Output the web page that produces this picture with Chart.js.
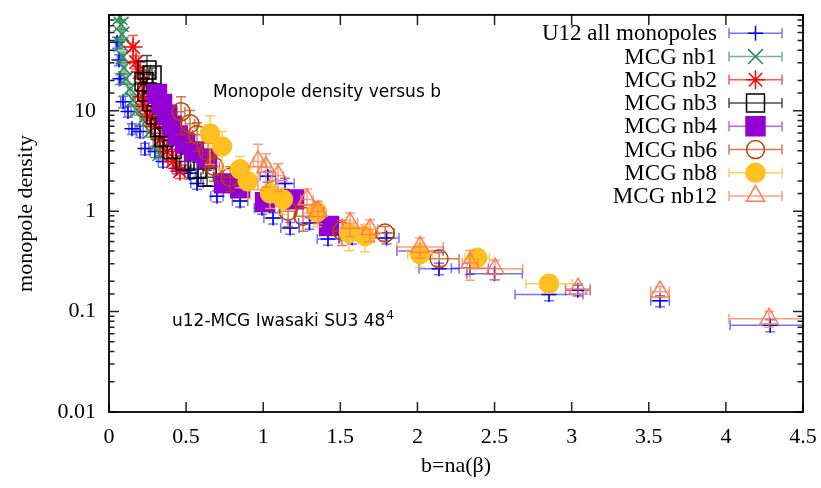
<!DOCTYPE html>
<html>
<head>
<meta charset="utf-8">
<script src="https://cdn.jsdelivr.net/npm/chart.js@4.4.1/dist/chart.umd.min.js"></script>
<style>
html,body{margin:0;padding:0;background:#ffffff;}
#box{width:821px;height:488px;}
</style>
</head>
<body>
<div id="box"><canvas id="chart" width="821" height="488"></canvas></div>
<script>
// ---------------- data ----------------
const seriesLabels = ['U12 all monopoles','MCG nb1','MCG nb2','MCG nb3','MCG nb4','MCG nb6','MCG nb8','MCG nb12'];

const u12B      = [0.052,0.065,0.071,0.091,0.123,0.149,0.201,0.233,0.298,0.35,0.44,0.525,0.571,0.70,0.85,0.992,1.03,1.064,1.141,1.174,1.30,1.42,1.576,1.80,2.017,2.14,2.34,2.50,2.853,3.04,3.573,4.287];
const u12Rho    = [48,32,20.8,12.3,9.8,6.6,6.2,4.2,3.93,3.13,2.67,2.38,1.89,1.41,1.26,1.07,2.22,0.853,1.89,0.68,0.76,0.528,0.54,0.54,0.40,0.267,0.27,0.238,0.148,0.163,0.128,0.073];
const u12BErr   = [0.01,0.01,0.01,0.015,0.02,0.02,0.02,0.025,0.03,0.03,0.03,0.035,0.04,0.04,0.05,0.05,0.05,0.06,0.06,0.06,0.07,0.07,0.08,0.08,0.15,0.13,0.12,0.18,0.22,0.08,0.06,0.26];
const u12RhoErr = [6,4,2.6,1.6,1.2,0.8,0.8,0.55,0.5,0.4,0.33,0.3,0.24,0.18,0.16,0.14,0.28,0.11,0.24,0.09,0.1,0.07,0.07,0.07,0.05,0.035,0.035,0.03,0.02,0.02,0.016,0.01];

const nb1B      = [0.071,0.078,0.084,0.078,0.091,0.097,0.11,0.136,0.156,0.182,0.22,0.266,0.311,0.33];
const nb1Rho    = [85,72.6,57.8,46,34.3,26.7,20.8,16.5,12.8,10.2,8.15,6.2,4.71,3.75];
const nb1BErr   = [0.008,0.008,0.01,0.01,0.01,0.012,0.012,0.015,0.015,0.02,0.02,0.02,0.025,0.025];
const nb1RhoErr = [10,8.7,7,5.5,4.1,3.2,2.5,2,1.5,1.2,1,0.75,0.57,0.45];

const nb2B      = [0.156,0.175,0.201,0.22,0.214,0.233,0.266,0.298,0.33,0.376,0.415,0.46];
const nb2Rho    = [43,30.5,24.3,18.5,13.8,11.0,8.7,6.95,5.17,3.93,3.13,2.49];
const nb2BErr   = [0.015,0.015,0.02,0.02,0.02,0.02,0.025,0.025,0.03,0.03,0.03,0.03];
const nb2RhoErr = [13,4.5,3.6,2.8,2.1,1.6,1.3,1.0,0.78,0.6,0.47,0.37];

const nb3B      = [0.246,0.279,0.227,0.246,0.279,0.305,0.33,0.357,0.409,0.493,0.571,0.636];
const nb3Rho    = [25.5,22.7,19.4,15.4,12.3,9.1,6.8,5.4,4.1,3.13,2.61,2.17];
const nb3BErr   = [0.02,0.02,0.02,0.02,0.025,0.025,0.03,0.03,0.03,0.035,0.04,0.04];
const nb3RhoErr = [10,4,3.5,2.8,2.2,1.6,1.2,0.95,0.72,0.55,0.45,0.38];

const nb4B      = [0.311,0.344,0.376,0.409,0.447,0.493,0.551,0.636,0.746,0.85,1.012,1.20,1.427];
const nb4Rho    = [14.7,11.7,9.1,7.1,5.66,4.71,3.93,3.35,1.89,1.69,1.23,1.31,0.71];
const nb4BErr   = [0.02,0.02,0.025,0.025,0.03,0.03,0.03,0.035,0.04,0.04,0.05,0.05,0.05];
const nb4RhoErr = [2.5,1.6,1.2,0.9,0.7,0.6,0.5,0.45,0.3,0.25,0.18,0.18,0.1];

const nb6B      = [0.467,0.525,0.571,0.642,0.681,0.785,1.161,1.258,1.511,1.79,2.14];
const nb6Rho    = [9.77,7.43,5.78,3.93,2.79,2.17,1.0,0.89,0.634,0.605,0.335];
const nb6BErr   = [0.025,0.03,0.03,0.035,0.035,0.04,0.05,0.05,0.06,0.06,0.13];
const nb6RhoErr = [4,2.6,1.8,1.2,0.8,0.6,0.3,0.26,0.18,0.1,0.05];

const nb8B      = [0.655,0.733,0.85,0.90,1.044,1.128,1.349,1.556,1.66,2.017,2.387,2.853];
const nb8Rho    = [5.92,4.41,2.61,1.98,1.51,1.31,0.98,0.605,0.565,0.375,0.343,0.189];
const nb8BErr   = [0.03,0.03,0.035,0.035,0.04,0.04,0.05,0.05,0.05,0.08,0.08,0.15];
const nb8RhoErr = [3.0,1.8,0.9,0.65,0.45,0.38,0.28,0.2,0.17,0.1,0.07,0.03];

const nb12B      = [0.966,1.018,1.096,1.284,1.355,1.563,1.693,2.017,2.341,2.503,3.041,3.573,4.28];
const nb12Rho    = [3.13,2.73,2.27,1.31,1.0,0.76,0.66,0.44,0.305,0.267,0.169,0.158,0.085];
const nb12BErr   = [0.03,0.03,0.035,0.04,0.04,0.05,0.05,0.15,0.05,0.18,0.08,0.06,0.26];
const nb12RhoErr = [1.5,1.0,0.7,0.35,0.25,0.2,0.16,0.1,0.1,0.06,0.02,0.02,0.015];

// ---------------- styles ----------------
const SERIF = '"Liberation Serif", "Times New Roman", serif';
const SANS  = '"DejaVu Sans", Verdana, sans-serif';

const seriesStyles = [
  {color:'#0000ff', err:'rgba(0,0,255,0.55)',    style:'cross',    r:7.5,  fill:false},
  {color:'#2e8b57', err:'rgba(46,139,87,0.65)',  style:'crossRot', r:10.5, fill:false},
  {color:'#ff0000', err:'rgba(255,0,0,0.65)',    style:'star',     r:9.5,  fill:false},
  {color:'#000000', err:'rgba(0,0,0,0.7)',       style:'rect',     r:12.7, fill:false},
  {color:'#9400d3', err:'rgba(148,0,211,0.6)',   style:'rect',     r:13.4, fill:true},
  {color:'#c04000', err:'rgba(192,64,0,0.7)',    style:'circle',   r:9,    fill:false},
  {color:'#ffc020', err:'rgba(255,192,32,0.75)', style:'circle',   r:9.5,  fill:true},
  {color:'#ff7f50', err:'rgba(255,127,80,0.75)', style:'triangle', r:10.5, fill:false}
];

const seriesData = [
  [u12B,u12Rho,u12BErr,u12RhoErr],
  [nb1B,nb1Rho,nb1BErr,nb1RhoErr],
  [nb2B,nb2Rho,nb2BErr,nb2RhoErr],
  [nb3B,nb3Rho,nb3BErr,nb3RhoErr],
  [nb4B,nb4Rho,nb4BErr,nb4RhoErr],
  [nb6B,nb6Rho,nb6BErr,nb6RhoErr],
  [nb8B,nb8Rho,nb8BErr,nb8RhoErr],
  [nb12B,nb12Rho,nb12BErr,nb12RhoErr]
];

function toPoints(b, rho, be, re) {
  return b.map((v,i) => ({x:v, y:rho[i], ex:be[i], ey:re[i]}));
}

const datasets = seriesData.map((d,i) => {
  const s = seriesStyles[i];
  return {
    label: seriesLabels[i],
    data: toPoints(d[0],d[1],d[2],d[3]),
    pointStyle: s.style,
    pointRadius: s.r,
    pointHoverRadius: s.r,
    pointBorderWidth: 1.5,
    borderColor: s.color,
    backgroundColor: s.fill ? s.color : 'rgba(0,0,0,0)',
    errColor: s.err,
    order: seriesLabels.length - i,
    showLine: false
  };
});

// ---------------- plugins ----------------
const errorBars = {
  id: 'errorBars',
  beforeDatasetDraw(chart, args) {
    const ds = chart.data.datasets[args.index];
    const xs = chart.scales.x, ys = chart.scales.y, a = chart.chartArea;
    const ctx = chart.ctx;
    ctx.save();
    ctx.beginPath(); ctx.rect(a.left, a.top, a.right - a.left, a.bottom - a.top); ctx.clip();
    ctx.strokeStyle = ds.errColor; ctx.lineWidth = 1.5;
    const cap = 5;
    ds.data.forEach(p => {
      const px = xs.getPixelForValue(p.x), py = ys.getPixelForValue(p.y);
      const yt = ys.getPixelForValue(p.y + p.ey);
      const yb = ys.getPixelForValue(Math.max(p.y - p.ey, 0.005));
      const xl = xs.getPixelForValue(p.x - p.ex), xr = xs.getPixelForValue(p.x + p.ex);
      ctx.beginPath();
      ctx.moveTo(px, yt); ctx.lineTo(px, yb);
      ctx.moveTo(px - cap, yt); ctx.lineTo(px + cap, yt);
      ctx.moveTo(px - cap, yb); ctx.lineTo(px + cap, yb);
      ctx.moveTo(xl, py); ctx.lineTo(xr, py);
      ctx.moveTo(xl, py - cap); ctx.lineTo(xl, py + cap);
      ctx.moveTo(xr, py - cap); ctx.lineTo(xr, py + cap);
      ctx.stroke();
    });
    ctx.restore();
  }
};

function drawSym(ctx, s, x, y) {
  const r = s.r;
  ctx.beginPath();
  if (s.style === 'cross' || s.style === 'star') {
    ctx.moveTo(x - r, y); ctx.lineTo(x + r, y); ctx.moveTo(x, y - r); ctx.lineTo(x, y + r);
  }
  if (s.style === 'crossRot' || s.style === 'star') {
    const d = r * Math.SQRT1_2;
    ctx.moveTo(x - d, y - d); ctx.lineTo(x + d, y + d); ctx.moveTo(x - d, y + d); ctx.lineTo(x + d, y - d);
  }
  if (s.style === 'rect') {
    const h = r * Math.SQRT1_2; ctx.rect(x - h, y - h, 2 * h, 2 * h);
  }
  if (s.style === 'circle') { ctx.arc(x, y, r, 0, Math.PI * 2); }
  if (s.style === 'triangle') {
    const a = 2 * Math.PI / 3;
    ctx.moveTo(x, y - r);
    ctx.lineTo(x + Math.sin(a) * r, y - Math.cos(a) * r);
    ctx.lineTo(x + Math.sin(2 * a) * r, y - Math.cos(2 * a) * r);
    ctx.closePath();
  }
  if (s.fill) { ctx.fillStyle = s.color; ctx.fill(); }
  ctx.strokeStyle = s.color; ctx.lineWidth = 1.5; ctx.stroke();
}

const frameAndDecor = {
  id: 'frameAndDecor',
  afterDraw(chart) {
    const ctx = chart.ctx, a = chart.chartArea, xs = chart.scales.x, ys = chart.scales.y;
    ctx.save();
    // ticks (inward, mirrored)
    ctx.strokeStyle = '#222'; ctx.lineWidth = 1.5;
    ctx.beginPath();
    ys.ticks.forEach(t => {
      const py = ys.getPixelForValue(t.value);
      const l = Math.log10(t.value);
      const major = Math.abs(l - Math.round(l)) < 1e-6;
      const len = major ? 10 : 5.5;
      ctx.moveTo(a.left, py); ctx.lineTo(a.left + len, py);
      ctx.moveTo(a.right, py); ctx.lineTo(a.right - len, py);
    });
    xs.ticks.forEach(t => {
      const px = xs.getPixelForValue(t.value);
      ctx.moveTo(px, a.bottom); ctx.lineTo(px, a.bottom - 10);
      ctx.moveTo(px, a.top); ctx.lineTo(px, a.top + 10);
    });
    ctx.stroke();
    // frame
    ctx.strokeStyle = '#000'; ctx.lineWidth = 1.8;
    ctx.strokeRect(a.left, a.top, a.right - a.left, a.bottom - a.top);

    // annotations
    ctx.fillStyle = '#000';
    ctx.textBaseline = 'alphabetic'; ctx.textAlign = 'left';
    ctx.font = '17px ' + SANS;
    ctx.fillText('Monopole density versus b', 213, 97);
    const t2 = 'u12-MCG Iwasaki SU3 48';
    ctx.fillText(t2, 172, 326);
    const w2 = ctx.measureText(t2).width;
    ctx.font = '12px ' + SANS;
    ctx.fillText('4', 172 + w2 + 1, 319);

    // legend
    const textRight = 717, lx0 = 729, lx1 = 782, lxc = 755.5;
    ctx.font = '23px ' + SERIF;
    ctx.textAlign = 'right'; ctx.textBaseline = 'middle';
    seriesLabels.forEach((lab, i) => {
      const y = 33.3 + i * 23.25;
      const s = seriesStyles[i];
      ctx.fillStyle = '#000';
      ctx.fillText(lab, textRight, y + 1);
      ctx.strokeStyle = s.err; ctx.lineWidth = 1.5;
      ctx.beginPath();
      ctx.moveTo(lx0, y); ctx.lineTo(lx1, y);
      ctx.moveTo(lx0, y - 5); ctx.lineTo(lx0, y + 5);
      ctx.moveTo(lx1, y - 5); ctx.lineTo(lx1, y + 5);
      ctx.stroke();
      drawSym(ctx, s, lxc, y);
    });
    ctx.restore();
  }
};

function fmtLog(v) {
  const l = Math.log10(v);
  if (Math.abs(l - Math.round(l)) > 1e-6) return '';
  return String(parseFloat(v.toPrecision(3)));
}

function zeroPad(scale) {
  scale.paddingTop = 0; scale.paddingBottom = 0;
  scale.paddingLeft = 0; scale.paddingRight = 0;
}

new Chart(document.getElementById('chart'), {
  type: 'scatter',
  data: { datasets },
  options: {
    responsive: false,
    animation: false,
    devicePixelRatio: 1,
    layout: { padding: { left: 0, right: 18, top: 12, bottom: 0 } },
    plugins: { legend: { display: false }, tooltip: { enabled: false } },
    events: [],
    scales: {
      x: {
        type: 'linear', min: 0, max: 4.5,
        grid: { display: false, drawTicks: false },
        border: { display: false },
        ticks: { stepSize: 0.5, color: '#000', padding: 12, font: { family: SERIF, size: 22 },
                 callback: v => String(v), maxRotation: 0, autoSkip: false },
        title: { display: true, text: 'b=na(β)', color: '#000', font: { family: SERIF, size: 22 },
                 padding: { top: 0, bottom: 9 } },
        afterFit(scale) { scale.height = 76; zeroPad(scale); }
      },
      y: {
        type: 'logarithmic', min: 0.01, max: 90,
        grid: { display: false, drawTicks: false },
        border: { display: false },
        ticks: { color: '#000', padding: 13, font: { family: SERIF, size: 22 },
                 callback: v => fmtLog(v), autoSkip: false },
        title: { display: true, text: 'monopole density', color: '#000', font: { family: SERIF, size: 22 },
                 padding: { top: 13, bottom: 0 } },
        afterFit(scale) { scale.width = 109; zeroPad(scale); }
      }
    }
  },
  plugins: [errorBars, frameAndDecor]
});
</script>
</body>
</html>
